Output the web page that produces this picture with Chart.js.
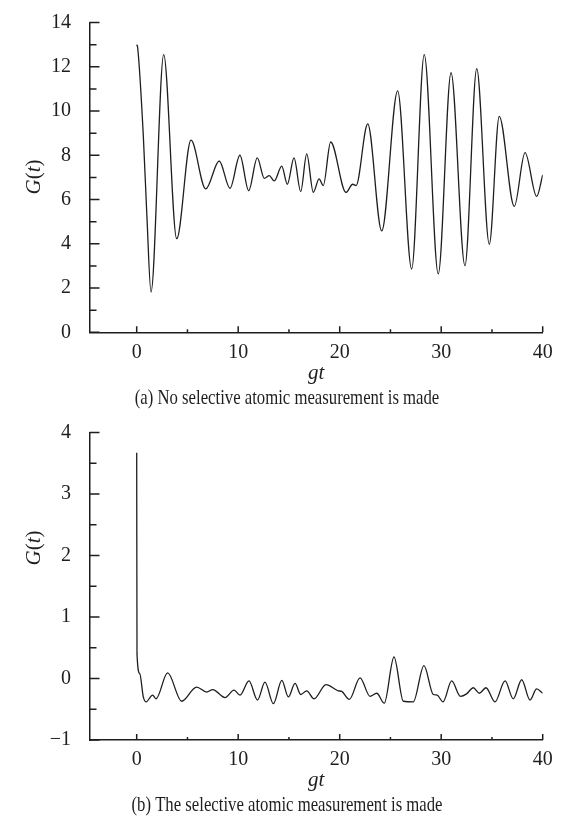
<!DOCTYPE html>
<html><head><meta charset="utf-8">
<script src="https://cdn.jsdelivr.net/npm/chart.js@4/dist/chart.umd.min.js"></script>
<style>html,body{margin:0;padding:0;background:#fff;} canvas{display:block;}</style>
</head><body>
<canvas id="ca" width="572" height="410"></canvas>
<canvas id="cb" width="572" height="411"></canvas>
<script>
// ---- data ----
const topX = [0, 0.1, 0.65, 1.0, 1.41, 2.66, 3.94, 5.35, 6.8, 8.13, 9.19, 10.17, 11.03, 11.88, 12.57, 13.06, 13.56, 14.29, 14.84, 15.5, 16.16, 16.75, 17.4, 17.97, 18.38, 19.11, 20.62, 21.28, 21.61, 22.76, 24.14, 25.71, 27.09, 28.33, 29.71, 30.97, 32.34, 33.5, 34.74, 35.72, 37.2, 38.26, 39.41, 40];
const topY = [13.0, 12.85, 8.9, 5.3, 1.82, 12.55, 4.23, 8.68, 6.48, 7.74, 6.51, 8.0, 6.4, 7.88, 6.96, 7.08, 6.84, 7.51, 6.69, 7.88, 6.36, 8.06, 6.33, 6.93, 6.63, 8.6, 6.32, 6.69, 6.63, 9.42, 4.58, 10.91, 2.86, 12.55, 2.64, 11.73, 3.01, 11.91, 3.98, 9.76, 5.69, 8.12, 6.14, 7.11];
const botX = [0, 0.03, 0.3, 0.65, 0.92, 1.57, 1.9, 3.05, 4.43, 5.9, 6.9, 7.49, 8.7, 9.59, 10.18, 11.06, 11.9, 12.64, 13.46, 14.3, 14.94, 15.6, 16.16, 16.75, 17.47, 18.65, 19.86, 20.2, 20.95, 22.0, 22.99, 23.65, 24.39, 25.35, 26.27, 27.25, 28.3, 29.22, 29.6, 30.18, 31.03, 31.9, 32.5, 33.16, 33.75, 34.41, 35.3, 36.29, 37.1, 37.93, 38.75, 39.4, 40];
const botY = [3.67, 0.40, 0.08, -0.30, -0.38, -0.27, -0.33, 0.09, -0.37, -0.14, -0.22, -0.18, -0.31, -0.19, -0.27, -0.04, -0.35, -0.06, -0.41, -0.03, -0.30, -0.08, -0.26, -0.20, -0.33, -0.10, -0.20, -0.21, -0.34, 0.01, -0.29, -0.24, -0.40, 0.35, -0.37, -0.38, 0.21, -0.26, -0.27, -0.38, -0.04, -0.29, -0.25, -0.15, -0.24, -0.15, -0.38, -0.04, -0.33, -0.02, -0.35, -0.17, -0.24];
const xTicks = [0, 5, 10, 15, 20, 25, 30, 35, 40];
const xLabels = [0, 10, 20, 30, 40];
const topYTicks = [0,1,2,3,4,5,6,7,8,9,10,11,12,13,14];
const topYLabels = [0,2,4,6,8,10,12,14];
const botYTicks = [-1,-0.5,0,0.5,1,1.5,2,2.5,3,3.5,4];
const botYLabels = [-1,0,1,2,3,4];
const xTitle = 'gt';
const captionA = '(a) No selective atomic measurement is made';
const captionB = '(b) The selective atomic measurement is made';

const FONT = '"Liberation Serif", "Times New Roman", serif';
const INK = '#1e1e1e';

function fmt(v){ return v < 0 ? '\u2212' + Math.abs(v) : String(v); }

function makeChart(id, xs, ys, yMin, yMax, yTicks, yLabels, caption, capY, yTitleY, padBottom) {
  const decor = {
    id: 'decor',
    afterDraw(chart) {
      const ctx = chart.ctx, sx = chart.scales.x, sy = chart.scales.y, a = chart.chartArea;
      ctx.save();
      ctx.strokeStyle = INK; ctx.lineWidth = 1.5;
      ctx.beginPath();
      xTicks.forEach(v => { const p = sx.getPixelForValue(v); const L = xLabels.includes(v) ? 6 : 3; ctx.moveTo(p, a.bottom); ctx.lineTo(p, a.bottom - L); });
      yTicks.forEach(v => { const p = sy.getPixelForValue(v); const L = yLabels.includes(v) ? 10 : 7; ctx.moveTo(a.left, p); ctx.lineTo(a.left + L, p); });
      ctx.stroke();
      // y title G(t) with mixed italics
      ctx.fillStyle = INK;
      ctx.translate(34, yTitleY); ctx.rotate(-Math.PI/2);
      const parts = [['G', true], ['(', false], ['t', true], [')', false]];
      let total = 0;
      parts.forEach(p => { ctx.font = (p[1] ? 'italic ' : '') + '21px ' + FONT; p.push(ctx.measureText(p[0]).width); total += p[2]; });
      let cx = -total/2;
      ctx.textBaseline = 'middle'; ctx.textAlign = 'left';
      parts.forEach(p => { ctx.font = (p[1] ? 'italic ' : '') + '21px ' + FONT; ctx.fillText(p[0], cx, 0); cx += p[2]; });
      ctx.restore();
      ctx.save();
      ctx.fillStyle = INK; ctx.font = '22px ' + FONT; ctx.textAlign = 'center'; ctx.textBaseline = 'middle';
      ctx.translate(287, capY); ctx.scale(0.76, 1); ctx.fillText(caption, 0, 0);
      ctx.restore();
    }
  };
  return new Chart(document.getElementById(id), {
    type: 'line',
    data: { datasets: [{ data: xs.map((x, i) => ({x: x, y: ys[i]})), borderColor: INK, borderWidth: 1.3, pointRadius: 0, fill: false, cubicInterpolationMode: 'monotone' }] },
    options: {
      responsive: false, animation: false, devicePixelRatio: 1,
      layout: { padding: { left: 0, top: 19.3, right: 29.3, bottom: padBottom } },
      plugins: { legend: { display: false }, tooltip: { enabled: false } },
      scales: {
        x: {
          type: 'linear', min: -4.65, max: 40,
          afterBuildTicks: s => { s.ticks = xTicks.map(v => ({value: v})); },
          afterFit: s => { s.height = 53.3; },
          grid: { display: false }, border: { display: true, color: INK, width: 1.5 },
          ticks: { autoSkip: false, maxRotation: 0, padding: 0, color: INK, font: { family: FONT, size: 20 }, callback: v => xLabels.includes(v) ? fmt(v) : '' },
          title: { display: true, text: xTitle, color: INK, padding: 0, font: { family: FONT, size: 21, style: 'italic' } }
        },
        y: {
          type: 'linear', min: yMin, max: yMax,
          afterBuildTicks: s => { s.ticks = yTicks.map(v => ({value: v})); },
          afterFit: s => { s.width = 89.5; },
          grid: { display: false }, border: { display: true, color: INK, width: 1.5 },
          ticks: { autoSkip: false, padding: 10.5, color: INK, font: { family: FONT, size: 20 }, callback: v => yLabels.includes(v) ? fmt(v) : '' }
        }
      }
    },
    plugins: [decor]
  });
}

makeChart('ca', topX, topY, 0, 14, topYTicks, topYLabels, captionA, 398, 177, 410 - 332.3 - 53.3);
makeChart('cb', botX, botY, -1, 4, botYTicks, botYLabels, captionB, 395, 138, 411 - 330 - 53.3);
</script>
</body></html>
